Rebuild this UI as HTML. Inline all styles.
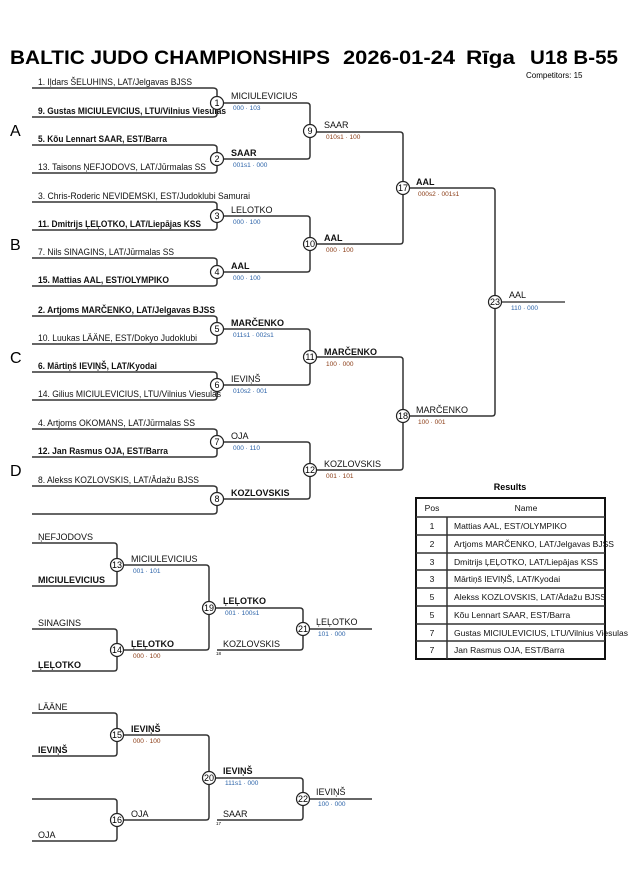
<!DOCTYPE html>
<html><head><meta charset="utf-8"><style>
body{margin:0;background:#fff;}
svg{display:block;font-family:"Liberation Sans",Arial,sans-serif;}
.e{font-size:9px;fill:#111}
.b{font-weight:bold}
.w{font-size:9px;fill:#111}
.s{font-size:6.5px}
.bl{fill:#2a62a8}
.br{fill:#8a3b14}
.n{font-size:9px;text-anchor:middle;fill:#000}
path,line{stroke:#333;stroke-width:1.5;fill:none}
circle{fill:#fff;stroke:#222;stroke-width:1.2}
.f{stroke:#777;stroke-width:2}
.t{font-size:8.5px;fill:#111}
.h{font-size:19.5px;font-weight:bold}
</style></head><body>
<svg width="630" height="891" viewBox="0 0 630 891">
<text class="h" x="10" y="64" textLength="320" lengthAdjust="spacingAndGlyphs">BALTIC JUDO CHAMPIONSHIPS</text>
<text class="h" x="343" y="64" textLength="112" lengthAdjust="spacingAndGlyphs">2026-01-24</text>
<text class="h" x="466" y="64" textLength="49" lengthAdjust="spacingAndGlyphs">Rīga</text>
<text class="h" x="530" y="64" textLength="88" lengthAdjust="spacingAndGlyphs">U18 B-55</text>
<text x="526" y="78" style="font-size:8px">Competitors: 15</text>
<g style="font-size:16px">
<text x="10" y="136">A</text><text x="10" y="250">B</text><text x="10" y="363">C</text><text x="10" y="476">D</text>
</g>
<path d="M32 88H213Q217 88 217 91V114Q217 117 213 117H32"/>
<path d="M32 145H213Q217 145 217 148V170Q217 173 213 173H32"/>
<path d="M32 202H213Q217 202 217 205V227Q217 230 213 230H32"/>
<path d="M32 258H213Q217 258 217 261V283Q217 286 213 286H32"/>
<path d="M32 316H213Q217 316 217 319V341Q217 344 213 344H32"/>
<path d="M32 372H213Q217 372 217 375V397Q217 400 213 400H32"/>
<path d="M32 429H213Q217 429 217 432V454Q217 457 213 457H32"/>
<path d="M32 486H213Q217 486 217 489V511Q217 514 213 514H32"/>
<path d="M217 103H307Q310 103 310 106V156Q310 159 307 159H217"/>
<path d="M217 216H307Q310 216 310 219V269Q310 272 307 272H217"/>
<path d="M217 329H307Q310 329 310 332V382Q310 385 307 385H217"/>
<path d="M217 442H307Q310 442 310 445V496Q310 499 307 499H217"/>
<path d="M310 132H400Q403 132 403 135V241Q403 244 400 244H310"/>
<path d="M310 357H400Q403 357 403 360V467Q403 470 400 470H310"/>
<path d="M403 188H492Q495 188 495 191V413Q495 416 492 416H403"/>
<line class="f" x1="495" y1="302" x2="565" y2="302"/>
<text class="e" x="38" y="85" textLength="154" lengthAdjust="spacingAndGlyphs">1. Iļdars ŠELUHINS, LAT/Jelgavas BJSS</text>
<text class="e b" x="38" y="114" textLength="188" lengthAdjust="spacingAndGlyphs">9. Gustas MICIULEVICIUS, LTU/Vilnius Viesulas</text>
<text class="e b" x="38" y="142" textLength="129" lengthAdjust="spacingAndGlyphs">5. Kõu Lennart SAAR, EST/Barra</text>
<text class="e" x="38" y="170" textLength="168" lengthAdjust="spacingAndGlyphs">13. Taisons ŅEFJODOVS, LAT/Jūrmalas SS</text>
<text class="e" x="38" y="199" textLength="212" lengthAdjust="spacingAndGlyphs">3. Chris-Roderic NEVIDEMSKI, EST/Judoklubi Samurai</text>
<text class="e b" x="38" y="227" textLength="163" lengthAdjust="spacingAndGlyphs">11. Dmitrijs ĻEĻOTKO, LAT/Liepājas KSS</text>
<text class="e" x="38" y="255" textLength="136" lengthAdjust="spacingAndGlyphs">7. Nils SINAGINS, LAT/Jūrmalas SS</text>
<text class="e b" x="38" y="283" textLength="131" lengthAdjust="spacingAndGlyphs">15. Mattias AAL, EST/OLYMPIKO</text>
<text class="e b" x="38" y="313" textLength="177" lengthAdjust="spacingAndGlyphs">2. Artjoms MARČENKO, LAT/Jelgavas BJSS</text>
<text class="e" x="38" y="341" textLength="159" lengthAdjust="spacingAndGlyphs">10. Luukas LÄÄNE, EST/Dokyo Judoklubi</text>
<text class="e b" x="38" y="369" textLength="119" lengthAdjust="spacingAndGlyphs">6. Mārtiņš IEVIŅŠ, LAT/Kyodai</text>
<text class="e" x="38" y="397" textLength="183" lengthAdjust="spacingAndGlyphs">14. Gilius MICIULEVICIUS, LTU/Vilnius Viesulas</text>
<text class="e" x="38" y="426" textLength="157" lengthAdjust="spacingAndGlyphs">4. Artjoms OKOMANS, LAT/Jūrmalas SS</text>
<text class="e b" x="38" y="454" textLength="130" lengthAdjust="spacingAndGlyphs">12. Jan Rasmus OJA, EST/Barra</text>
<text class="e" x="38" y="483" textLength="161" lengthAdjust="spacingAndGlyphs">8. Alekss KOZLOVSKIS, LAT/Ādažu BJSS</text>
<text class="w" x="231" y="99">MICIULEVICIUS</text><text class="s bl" x="233" y="110">000 · 103</text>
<text class="w b" x="231" y="156">SAAR</text><text class="s bl" x="233" y="167">001s1 · 000</text>
<text class="w" x="231" y="213">LELOTKO</text><text class="s bl" x="233" y="224">000 · 100</text>
<text class="w b" x="231" y="269">AAL</text><text class="s bl" x="233" y="280">000 · 100</text>
<text class="w b" x="231" y="326">MARČENKO</text><text class="s bl" x="233" y="337">011s1 · 002s1</text>
<text class="w" x="231" y="382">IEVIŅŠ</text><text class="s bl" x="233" y="393">010s2 · 001</text>
<text class="w" x="231" y="439">OJA</text><text class="s bl" x="233" y="450">000 · 110</text>
<text class="w b" x="231" y="496">KOZLOVSKIS</text>
<text class="w" x="324" y="128">SAAR</text><text class="s br" x="326" y="139">010s1 · 100</text>
<text class="w b" x="324" y="241">AAL</text><text class="s br" x="326" y="252">000 · 100</text>
<text class="w b" x="324" y="355">MARČENKO</text><text class="s br" x="326" y="366">100 · 000</text>
<text class="w" x="324" y="467">KOZLOVSKIS</text><text class="s br" x="326" y="478">001 · 101</text>
<text class="w b" x="416" y="185">AAL</text><text class="s br" x="418" y="196">000s2 · 001s1</text>
<text class="w" x="416" y="413">MARČENKO</text><text class="s br" x="418" y="424">100 · 001</text>
<text class="w" x="509" y="298">AAL</text><text class="s bl" x="511" y="310">110 · 000</text>
<g>
<circle cx="217" cy="103" r="6.5"/><text class="n" x="217" y="106">1</text>
<circle cx="217" cy="159" r="6.5"/><text class="n" x="217" y="162">2</text>
<circle cx="217" cy="216" r="6.5"/><text class="n" x="217" y="219">3</text>
<circle cx="217" cy="272" r="6.5"/><text class="n" x="217" y="275">4</text>
<circle cx="217" cy="329" r="6.5"/><text class="n" x="217" y="332">5</text>
<circle cx="217" cy="385" r="6.5"/><text class="n" x="217" y="388">6</text>
<circle cx="217" cy="442" r="6.5"/><text class="n" x="217" y="445">7</text>
<circle cx="217" cy="499" r="6.5"/><text class="n" x="217" y="502">8</text>
<circle cx="310" cy="131" r="6.5"/><text class="n" x="310" y="134">9</text>
<circle cx="310" cy="244" r="6.5"/><text class="n" x="310" y="247">10</text>
<circle cx="310" cy="357" r="6.5"/><text class="n" x="310" y="360">11</text>
<circle cx="310" cy="470" r="6.5"/><text class="n" x="310" y="473">12</text>
<circle cx="403" cy="188" r="6.5"/><text class="n" x="403" y="191">17</text>
<circle cx="403" cy="416" r="6.5"/><text class="n" x="403" y="419">18</text>
<circle cx="495" cy="302" r="6.5"/><text class="n" x="495" y="305">23</text>
</g>
<path d="M32 543H114Q117 543 117 546V583Q117 586 114 586H32"/>
<path d="M32 629H114Q117 629 117 632V668Q117 671 114 671H32"/>
<path d="M117 565H206Q209 565 209 568V647Q209 650 206 650H117"/>
<path d="M209 608H300Q303 608 303 611V647Q303 650 300 650H217"/>
<line x1="303" y1="629" x2="372" y2="629"/>
<text class="e" x="38" y="540">ŅEFJODOVS</text>
<text class="e b" x="38" y="583">MICIULEVICIUS</text>
<text class="e" x="38" y="626">SINAGINS</text>
<text class="e b" x="38" y="668">ĻEĻOTKO</text>
<text class="w" x="131" y="562">MICIULEVICIUS</text><text class="s bl" x="133" y="573">001 · 101</text>
<text class="w b" x="131" y="647">ĻEĻOTKO</text><text class="s br" x="133" y="658">000 · 100</text>
<text class="w b" x="223" y="604">ĻEĻOTKO</text><text class="s bl" x="225" y="615">001 · 100s1</text>
<text class="w" x="223" y="647">KOZLOVSKIS</text><text style="font-size:4.5px" x="216" y="655">18</text>
<text class="w" x="316" y="625">ĻEĻOTKO</text><text class="s bl" x="318" y="636">101 · 000</text>
<circle cx="117" cy="565" r="6.5"/><text class="n" x="117" y="568">13</text>
<circle cx="117" cy="650" r="6.5"/><text class="n" x="117" y="653">14</text>
<circle cx="209" cy="608" r="6.5"/><text class="n" x="209" y="611">19</text>
<circle cx="303" cy="629" r="6.5"/><text class="n" x="303" y="632">21</text>
<path d="M32 713H114Q117 713 117 716V753Q117 756 114 756H32"/>
<path d="M32 799H114Q117 799 117 802V838Q117 841 114 841H32"/>
<path d="M117 735H206Q209 735 209 738V817Q209 820 206 820H117"/>
<path d="M209 778H300Q303 778 303 781V817Q303 820 300 820H217"/>
<line x1="303" y1="799" x2="372" y2="799"/>
<text class="e" x="38" y="710">LÄÄNE</text>
<text class="e b" x="38" y="753">IEVIŅŠ</text>
<text class="e" x="38" y="838">OJA</text>
<text class="w b" x="131" y="732">IEVIŅŠ</text><text class="s br" x="133" y="743">000 · 100</text>
<text class="w" x="131" y="817">OJA</text>
<text class="w b" x="223" y="774">IEVIŅŠ</text><text class="s bl" x="225" y="785">111s1 · 000</text>
<text class="w" x="223" y="817">SAAR</text><text style="font-size:4.5px" x="216" y="825">17</text>
<text class="w" x="316" y="795">IEVIŅŠ</text><text class="s bl" x="318" y="806">100 · 000</text>
<circle cx="117" cy="735" r="6.5"/><text class="n" x="117" y="738">15</text>
<circle cx="117" cy="820" r="6.5"/><text class="n" x="117" y="823">16</text>
<circle cx="209" cy="778" r="6.5"/><text class="n" x="209" y="781">20</text>
<circle cx="303" cy="799" r="6.5"/><text class="n" x="303" y="802">22</text>
<text x="510" y="490" style="font-size:9px;font-weight:bold;text-anchor:middle">Results</text>
<rect x="416" y="498" width="189" height="161" style="fill:#fff;stroke:#111;stroke-width:2"/>
<g style="stroke:#555;stroke-width:1">
<line x1="416" y1="517" x2="605" y2="517"/>
<line x1="416" y1="535" x2="605" y2="535"/>
<line x1="416" y1="553" x2="605" y2="553"/>
<line x1="416" y1="570" x2="605" y2="570"/>
<line x1="416" y1="588" x2="605" y2="588"/>
<line x1="416" y1="606" x2="605" y2="606"/>
<line x1="416" y1="624" x2="605" y2="624"/>
<line x1="416" y1="641" x2="605" y2="641"/>
<line x1="447" y1="517" x2="447" y2="659"/>
</g>
<g class="t">
<text x="432" y="511" style="text-anchor:middle">Pos</text><text x="526" y="511" style="text-anchor:middle">Name</text>
<text x="432" y="529" style="text-anchor:middle">1</text><text x="454" y="529">Mattias AAL, EST/OLYMPIKO</text>
<text x="432" y="547" style="text-anchor:middle">2</text><text x="454" y="547" textLength="160" lengthAdjust="spacingAndGlyphs">Artjoms MARČENKO, LAT/Jelgavas BJSS</text>
<text x="432" y="565" style="text-anchor:middle">3</text><text x="454" y="565" textLength="144" lengthAdjust="spacingAndGlyphs">Dmitrijs ĻEĻOTKO, LAT/Liepājas KSS</text>
<text x="432" y="582" style="text-anchor:middle">3</text><text x="454" y="582">Mārtiņš IEVIŅŠ, LAT/Kyodai</text>
<text x="432" y="600" style="text-anchor:middle">5</text><text x="454" y="600" textLength="152" lengthAdjust="spacingAndGlyphs">Alekss KOZLOVSKIS, LAT/Ādažu BJSS</text>
<text x="432" y="618" style="text-anchor:middle">5</text><text x="454" y="618">Kõu Lennart SAAR, EST/Barra</text>
<text x="432" y="636" style="text-anchor:middle">7</text><text x="454" y="636" textLength="174" lengthAdjust="spacingAndGlyphs">Gustas MICIULEVICIUS, LTU/Vilnius Viesulas</text>
<text x="432" y="653" style="text-anchor:middle">7</text><text x="454" y="653">Jan Rasmus OJA, EST/Barra</text>
</g>
</svg>
</body></html>
